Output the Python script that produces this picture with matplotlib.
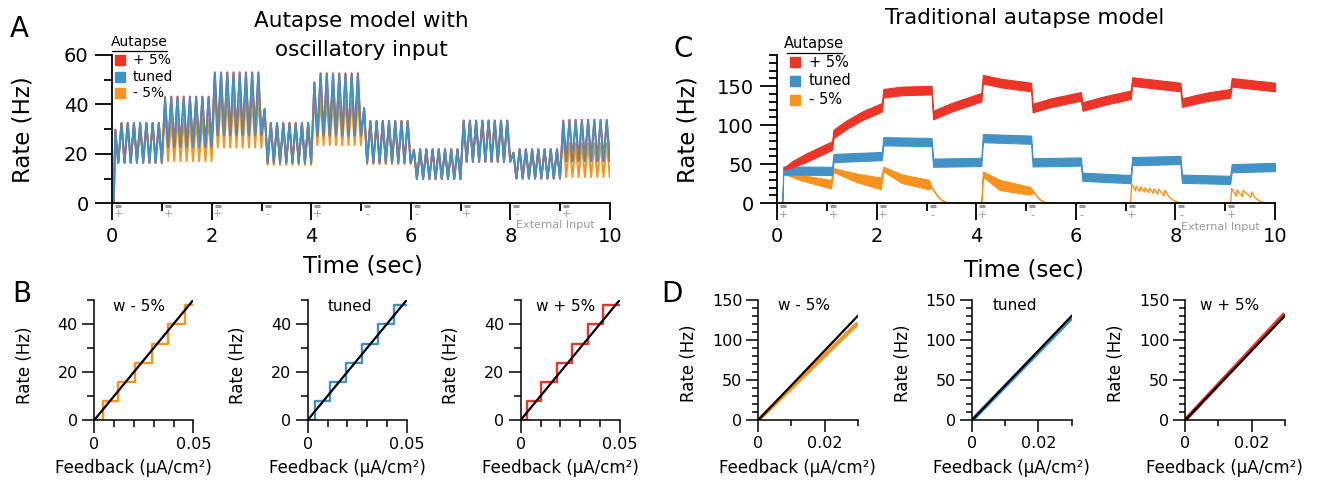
import numpy as np
import matplotlib
matplotlib.use("Agg")
import matplotlib.pyplot as plt
import matplotlib.transforms as mtransforms
from matplotlib.ticker import MultipleLocator, FixedLocator, FuncFormatter

plt.rcParams['font.family'] = 'DejaVu Sans'

W, H = 1320, 480

RED = '#EC3427'
BLUE = '#4292C6'
ORANGE = '#F7931E'
GREY = '#9a9a9a'

# === A. Autapse model with oscillatory input: peak / trough level of each second (Hz) ===
a_signs = ['+', '+', '+', '-', '+', '-', '-', '+', '-', '+']
a_blue_first = [29.7, 42.5, 52.6, 38.0, 48.6, 38.4, 21.6, 33.4, 20.4, 33.0]
a_blue_peak = [32.4, 42.8, 52.6, 32.4, 52.2, 33.2, 21.8, 33.4, 21.8, 33.4]
a_blue_trough = [16.4, 22.8, 27.5, 16.4, 27.3, 16.4, 9.8, 16.8, 10.0, 17.0]
a_red_first = [29.8, 43.0, 53.0, 38.2, 49.0, 38.5, 21.7, 33.5, 20.5, 33.5]
a_red_peak = [32.5, 43.2, 53.0, 32.5, 52.6, 33.3, 21.9, 33.5, 21.9, 33.8]
a_red_trough = [16.4, 23.0, 27.7, 16.4, 27.5, 16.4, 9.8, 16.8, 10.0, 17.2]
a_orange_first = [29.7, 38.0, 45.0, 38.0, 44.0, 38.4, 21.6, 33.4, 20.4, 28.3]
a_orange_peak = [32.4, 34.0, 42.0, 32.4, 41.5, 33.2, 21.8, 33.4, 21.8, 24.3]
a_orange_trough = [16.4, 17.0, 22.5, 15.5, 23.5, 15.8, 9.8, 16.8, 10.0, 10.6]
a_teeth = 8  # oscillation cycles per second

# === C. Traditional autapse model: band centre / width at knots ===
c_signs = a_signs
c_red_t = [0.12, 0.16, 0.30, 0.60, 1.10, 1.13, 1.40, 1.70, 2.10, 2.13, 2.50, 3.10, 3.13, 3.50,
           4.10, 4.13, 4.50, 5.10, 5.13, 5.50, 6.10, 6.13, 6.60, 7.10, 7.13, 8.10, 8.13, 8.60,
           9.10, 9.13, 10.0]
c_red = [44, 45, 50, 59, 74, 89, 101, 112, 123, 141, 144, 145, 113, 123,
         136, 159, 154, 149, 122, 129, 137, 124, 132, 139, 156, 149, 129, 136,
         141, 155, 149]
c_red_w = [0, 4, 8] + [11] * 28

c_blue_t = [0.10, 0.12, 1.10, 1.13, 2.10, 2.13, 3.10, 3.13, 4.10, 4.13, 5.10, 5.13, 6.10, 6.13,
            7.10, 7.13, 8.10, 8.13, 9.10, 9.13, 10.0]
c_blue = [0, 42, 41.5, 58, 60.5, 79.5, 78.5, 52, 53, 83.5, 81.5, 52.5, 53.5, 34,
          31, 54, 55.5, 31.5, 30, 45, 46.5]
c_blue_w = [0] + [10.5] * 20

c_orng_t = [0.12, 0.50, 1.08, 1.13, 1.60, 2.08, 2.13, 2.50, 3.05, 3.10, 3.20, 3.30, 3.40, 3.55, 3.70,
            4.10, 4.13, 4.47, 5.08, 5.15, 5.25, 5.35, 5.50, 5.65]
c_orng_lo = [38, 29, 19, 40, 27, 18, 41, 26, 18, 20, 10.5, 4.0, 1.5, 0.3, 0,
             0, 34, 17, 11, 14, 6.0, 2.0, 0.3, 0]
c_orng_hi = [42, 36, 30, 45, 38, 33, 47, 37, 30, 21, 11.0, 4.3, 1.7, 0.4, 0,
             0, 41, 30, 21, 15, 6.4, 2.2, 0.4, 0]
# spiky stretches
c_spk1_t = [7.12, 7.21, 7.30, 7.39, 7.48, 7.57, 7.66, 7.79]
c_spk1_peak = [25, 22, 21, 20, 19.5, 18.5, 18, 17]
c_spk1_trough = [16, 15, 14.5, 13.5, 12.5, 11.5, 9.5]
c_spk1_tail_t = [7.86, 7.95, 8.05, 8.20]
c_spk1_tail = [9, 4, 1.2, 0]
c_spk2_t = [9.13, 9.24, 9.36, 9.53]
c_spk2_peak = [19, 17, 16.5, 14.5]
c_spk2_trough = [9, 8.5, 7.5]
c_spk2_tail_t = [9.60, 9.70, 9.80, 9.92]
c_spk2_tail = [7, 2.5, 0.6, 0]

# === B. rate vs feedback, staircases ===
b_levels = [0, 7.8, 15.8, 23.8, 31.8, 39.8, 47.8]
b_minus_f = [0.001, 0.0042, 0.0122, 0.0205, 0.0289, 0.0373, 0.0457]
b_tuned_f = [0.0008, 0.0035, 0.0114, 0.0194, 0.0275, 0.0355, 0.0435]
b_plus_f = [0.0008, 0.0030, 0.0104, 0.0182, 0.0260, 0.0338, 0.0416]
b_fmax = 0.05
b_line_f = [0, 0.05]
b_line_r = [0, 50]

# === D. traditional model, rate vs feedback ===
d_f = [0, 0.03]
d_black = [0, 130]
d_minus = [0, 121]
d_tuned = [0, 127.5]
d_plus = [0, 133]


def px_axes(fig, x0, x1, ytop, ybot):
    return fig.add_axes([x0 / W, 1 - ybot / H, (x1 - x0) / W, (ybot - ytop) / H])


def style(ax, maj, mnr, lsize, pad, lw=1.1):
    for s in ['top', 'right']:
        ax.spines[s].set_visible(False)
    for s in ['left', 'bottom']:
        ax.spines[s].set_linewidth(lw)
    ax.tick_params(which='major', length=maj, width=lw, labelsize=lsize, pad=pad)
    ax.tick_params(which='minor', length=mnr, width=lw)


def zigzag(first, peak, trough):
    t = [0.0, 0.03]
    r = [0.0, 0.0]
    for k in range(len(peak)):
        for j in range(a_teeth):
            t += [k + 0.06 + j / a_teeth, k + 0.12 + j / a_teeth]
            r += [first[k] if j == 0 else peak[k], trough[k]]
    return np.array(t), np.array(r)


def spikes(pt, peak, trough, tail_t, tail):
    t = [pt[0] - 0.02]
    r = [0]
    for i in range(len(pt)):
        t.append(pt[i]); r.append(peak[i])
        if i < len(trough):
            t.append(pt[i + 1] - 0.015); r.append(trough[i])
    return t + tail_t, r + tail


def input_marks(ax, signs, ybar, ysign, ytext):
    trans = mtransforms.blended_transform_factory(ax.transData, ax.transAxes)
    for k, s in enumerate(signs):
        ax.plot([k + 0.06, k + 0.18], [ybar, ybar], color=GREY, lw=2.2,
                transform=trans, clip_on=False, solid_capstyle='butt')
        ax.text(k + 0.12, ysign, s, color=GREY, fontsize=8, ha='center', va='center',
                transform=trans)
    ax.text(8.9, ytext, 'External Input', color=GREY, fontsize=8, ha='center',
            va='center', transform=trans)


fig = plt.figure(figsize=(13.2, 4.8), dpi=100)

# ---------------------------
# A
# ---------------------------
axA = px_axes(fig, 112.3, 610, 55, 203.3)
for first, peak, trough, col in [(a_orange_first, a_orange_peak, a_orange_trough, ORANGE),
                                 (a_red_first, a_red_peak, a_red_trough, RED),
                                 (a_blue_first, a_blue_peak, a_blue_trough, BLUE)]:
    t, r = zigzag(first, peak, trough)
    axA.plot(t, r, color=col, lw=1.4)
axA.set_xlim(0, 10)
axA.set_ylim(0, 60)
axA.xaxis.set_major_locator(MultipleLocator(2))
axA.xaxis.set_minor_locator(MultipleLocator(1))
axA.yaxis.set_major_locator(MultipleLocator(20))
axA.yaxis.set_minor_locator(MultipleLocator(10))
style(axA, 12, 6, 14, 5, lw=1.3)
axA.set_xlabel('Time (sec)', fontsize=16.5)
axA.set_ylabel('Rate (Hz)', fontsize=16.5)
axA.xaxis.set_label_coords(0.504, -0.42)
axA.yaxis.set_label_coords(-0.179, 0.5)
for lab in [axA.xaxis.label, axA.yaxis.label]:
    lab.set_va('center'); lab.set_ha('center')
input_marks(axA, a_signs, -0.017, -0.074, -0.146)

# ---------------------------
# C
# ---------------------------
axC = px_axes(fig, 777.3, 1275, 55, 203.3)
lo = np.array(c_orng_lo); hi = np.array(c_orng_hi)
axC.fill_between(c_orng_t, lo, hi, color=ORANGE, lw=0.8)
for args in [(c_spk1_t, c_spk1_peak, c_spk1_trough, c_spk1_tail_t, c_spk1_tail),
             (c_spk2_t, c_spk2_peak, c_spk2_trough, c_spk2_tail_t, c_spk2_tail)]:
    t, r = spikes(*args)
    axC.plot(t, r, color=ORANGE, lw=1.0)
for tt, cc, ww, col in [(c_blue_t, c_blue, c_blue_w, BLUE), (c_red_t, c_red, c_red_w, RED)]:
    cc = np.array(cc, float); ww = np.array(ww, float)
    axC.fill_between(tt, cc - ww / 2, cc + ww / 2, color=col, lw=0.8)
axC.set_xlim(0, 10)
axC.set_ylim(0, 190)
axC.xaxis.set_major_locator(MultipleLocator(2))
axC.xaxis.set_minor_locator(MultipleLocator(1))
axC.yaxis.set_major_locator(MultipleLocator(50))
axC.yaxis.set_minor_locator(MultipleLocator(10))
style(axC, 12, 6, 14, 5, lw=1.3)
axC.set_xlabel('Time (sec)', fontsize=16.5)
axC.set_ylabel('Rate (Hz)', fontsize=16.5)
axC.xaxis.set_label_coords(0.496, -0.45)
axC.yaxis.set_label_coords(-0.179, 0.5)
for lab in [axC.xaxis.label, axC.yaxis.label]:
    lab.set_va('center'); lab.set_ha('center')
input_marks(axC, c_signs, -0.017, -0.078, -0.16)

# ---------------------------
# B
# ---------------------------
zero_fmt = FuncFormatter(lambda v, p: '0' if abs(v) < 1e-12 else f'{v:g}')
b_specs = [(94.3, b_minus_f, ORANGE, 'w - 5%', 0.45),
           (307.7, b_tuned_f, BLUE, 'tuned', 0.427),
           (520.7, b_plus_f, RED, 'w + 5%', 0.457)]
for x0, fs, col, title, tx in b_specs:
    ax = px_axes(fig, x0, x0 + 99, 300, 420)
    ax.step(fs + [b_fmax], [0] + b_levels[1:] + [b_levels[-1]], where='post', color=col, lw=1.7)
    ax.plot(b_line_f, b_line_r, color='black', lw=1.6)
    ax.set_xlim(0, 0.05)
    ax.set_ylim(0, 50)
    ax.xaxis.set_major_locator(FixedLocator([0, 0.05]))
    ax.xaxis.set_minor_locator(FixedLocator([0.01, 0.02, 0.03, 0.04]))
    ax.xaxis.set_major_formatter(zero_fmt)
    ax.yaxis.set_major_locator(MultipleLocator(20))
    ax.yaxis.set_minor_locator(MultipleLocator(10))
    style(ax, 9, 5, 11.5, 3)
    ax.set_xlabel('Feedback (µA/cm²)', fontsize=12)
    ax.set_ylabel('Rate (Hz)', fontsize=12)
    ax.xaxis.set_label_coords(0.40, -0.40)
    ax.yaxis.set_label_coords(-0.70, 0.46)
    for lab in [ax.xaxis.label, ax.yaxis.label]:
        lab.set_va('center'); lab.set_ha('center')
    ax.text(tx, 0.945, title, transform=ax.transAxes, ha='center', va='center', fontsize=11)

# ---------------------------
# D
# ---------------------------
d_specs = [(758.3, d_minus, ORANGE, 'w - 5%', 0.455),
           (972.2, d_tuned, BLUE, 'tuned', 0.43),
           (1185.3, d_plus, RED, 'w + 5%', 0.45)]
for x0, rr, col, title, tx in d_specs:
    ax = px_axes(fig, x0, x0 + 99.4, 300, 420)
    ax.plot(d_f, rr, color=col, lw=3.0, solid_capstyle='butt')
    ax.plot(d_f, d_black, color='black', lw=1.6)
    ax.set_xlim(0, 0.03)
    ax.set_ylim(0, 150)
    ax.xaxis.set_major_locator(FixedLocator([0, 0.02]))
    ax.xaxis.set_minor_locator(FixedLocator([0.01, 0.03]))
    ax.xaxis.set_major_formatter(zero_fmt)
    ax.yaxis.set_major_locator(MultipleLocator(50))
    ax.yaxis.set_minor_locator(MultipleLocator(10))
    style(ax, 8.5, 4.5, 11.5, 3)
    ax.set_xlabel('Feedback (µA/cm²)', fontsize=12)
    ax.set_ylabel('Rate (Hz)', fontsize=12)
    ax.xaxis.set_label_coords(0.39, -0.40)
    ax.yaxis.set_label_coords(-0.70, 0.475)
    for lab in [ax.xaxis.label, ax.yaxis.label]:
        lab.set_va('center'); lab.set_ha('center')
    ax.text(tx, 0.955, title, transform=ax.transAxes, ha='center', va='center', fontsize=11)

# ---------------------------
# overlay: titles, panel letters, legends (pixel coordinates)
# ---------------------------
ov = fig.add_axes([0, 0, 1, 1], zorder=5)
ov.set_xlim(0, W)
ov.set_ylim(H, 0)
ov.axis('off')

ov.text(361, 21, 'Autapse model with', ha='center', va='center', fontsize=15.5)
ov.text(361, 50, 'oscillatory input', ha='center', va='center', fontsize=15.5)
ov.text(1025, 18, 'Traditional autapse model', ha='center', va='center', fontsize=15.5)
for x, y, s in [(19, 29, 'A'), (22, 294, 'B'), (683, 49, 'C'), (672, 294, 'D')]:
    ov.text(x, y, s, ha='center', va='center', fontsize=20)


def legend(x_text, x_sq, y_head, y_line, ys, fsize, ms):
    ov.text((x_text[0] + x_text[1]) / 2, y_head, 'Autapse', ha='center', va='center', fontsize=fsize)
    ov.plot(x_text, [y_line, y_line], color='black', lw=0.9)
    for y, col, lab in zip(ys, [RED, BLUE, ORANGE], ['+ 5%', 'tuned', '- 5%']):
        ov.plot([x_sq], [y], marker='s', ms=ms, color=col, linestyle='none')
        ov.text(x_sq + 13.5, y, lab, ha='left', va='center', fontsize=fsize)


legend([111.7, 166.7], 119.5, 42.3, 50.7, [59.5, 76.7, 93.3], 10, 6.5)
legend([786.7, 841.7], 795.3, 43.3, 52.7, [62.3, 80.7, 100], 10.5, 7.5)

fig.savefig('out.png', dpi=100)
